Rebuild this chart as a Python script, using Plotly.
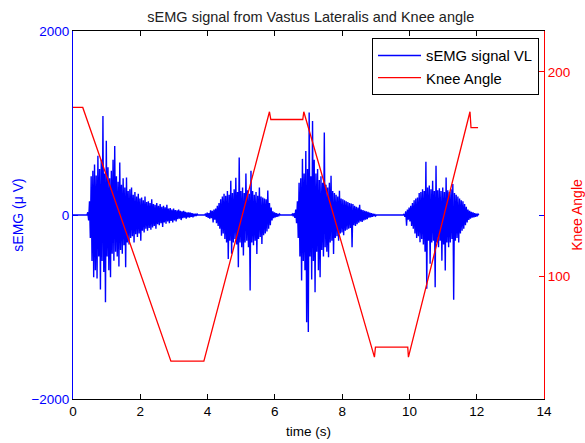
import plotly.graph_objects as go

# ---------------- data ----------------
emg_dt = 0.025            # sampling step used for the burst samples (s)
emg_rest_uV = 0.0         # baseline between bursts
burst_starts = [0.44, 3.94, 6.52, 9.84]

burst1_uV = [30, -60, 150, -250, 420, -500, 480, -676, 550, -600,
             430, -690, 643, -450, 500, -810, 600, -500, 1077, -620,
             450, -948, 808, -450, 520, -600, 400, -676, 480, -420,
             600, -496, 750, -400, 420, -450, 360, -560, 570, -380,
             330, -420, 400, -330, 300, -568, 408, -300, 260, -320,
             280, -250, 300, -230, 220, -300, 250, -210, 200, -240,
             230, -200, 180, -280, 190, -170, 160, -190, 200, -150,
             140, -170, 150, -140, 130, -160, 170, -135, 120, -120,
             110, -150, 130, -100, 100, -110, 120, -90, 90, -130,
             100, -80, 85, -95, 110, -70, 70, -90, 75, -65,
             60, -80, 70, -60, 55, -70, 50, -45, 60, -40,
             45, -55, 40, -35, 45, -30, 35, -40, 30, -25,
             30, -30, 25, -20, 20, -25, 15, -15, 15, -10, 10]

burst2_uV = [15, -20, 25, -30, 20, -40, 50, -35, 45, -80,
             60, -50, 70, -90, 100, -120, 130, -150, 170, -225,
             200, -200, 230, -260, 210, -300, 260, -478, 220, -280,
             372, -420, 240, -300, 280, -260, 405, -320, 250, -568,
             625, -300, 260, -350, 300, -440, 240, -300, 450, -280,
             270, -350, 230, -820, 480, -300, 260, -330, 220, -280,
             250, -423, 210, -260, 300, -240, 200, -315, 190, -220,
             180, -200, 170, -180, 265, -150, 130, -110, 80, -60,
             40, -35, 30, -25, 20, -20, 15, -15, 10]

burst3_uV = [10, -15, 20, -30, 60, -90, 150, -250, 350, -450,
             400, -712, 610, -500, 450, -600, 697, -1165, 500, -1273,
             1113, -450, 420, -700, 1023, -500, 600, -840, 450, -400,
             500, -600, 380, -676, 420, -380, 350, -450, 896, -350,
             330, -400, 300, -460, 350, -300, 426, -280, 260, -423,
             240, -250, 220, -230, 200, -280, 264, -200, 180, -190,
             170, -220, 160, -170, 150, -160, 140, -150, 130, -140,
             125, -351, 120, -110, 100, -120, 90, -100, 80, -85,
             110, -70, 60, -75, 55, -60, 45, -50, 40, -45,
             35, -30, 25, -25, 20, -20, 15, -15, 10, -10]

burst4_uV = [10, -20, 40, -116, 60, -50, 80, -70, 100, -120,
             130, -150, 160, -200, 180, -250, 190, -230, 240, -297,
             250, -260, 280, -320, 260, -400, 580, -802, 300, -280,
             320, -531, 280, -300, 372, -280, 260, -785, 535, -300,
             270, -350, 290, -280, 260, -496, 300, -320, 250, -604,
             408, -300, 270, -350, 250, -300, 280, -260, 336, -920,
             240, -280, 220, -250, 200, -300, 180, -200, 160, -170,
             150, -150, 120, -110, 90, -80, 60, -55, 45, -40,
             35, -30, 30, -25, 20, -20, 15, -15, 10]

bursts = [burst1_uV, burst2_uV, burst3_uV, burst4_uV]

knee_t = [0.0, 0.29, 2.91, 3.89, 5.84, 5.88, 6.83, 6.86, 8.96, 8.99,
          9.95, 9.97, 11.80, 11.83, 12.04]
knee_deg = [182.6, 182.6, 58.5, 58.5, 180.5, 176.7, 176.7, 180.5, 60.5, 65.4,
            65.4, 60.5, 180.5, 172.7, 172.7]

x_ticks = [0, 2, 4, 6, 8, 10, 12, 14]
emg_ticks = [-2000, 0, 2000]
knee_ticks = [100, 200]

# ---------------- build the sampled EMG series ----------------
emg_t = [0.0]
emg_v = [emg_rest_uV]
for start, vals in zip(burst_starts, bursts):
    emg_t.append(round(start - emg_dt, 4))
    emg_v.append(emg_rest_uV)
    for i, v in enumerate(vals):
        emg_t.append(round(start + i * emg_dt, 4))
        emg_v.append(v)
    emg_t.append(round(start + len(vals) * emg_dt, 4))
    emg_v.append(emg_rest_uV)

FONT = "Liberation Sans, Arial, Helvetica, sans-serif"
FS = 13.5
BLUE = "#0000ff"
RED = "#ff0000"

fig = go.Figure()
fig.add_trace(go.Scatter(x=emg_t, y=emg_v, mode="lines", name="sEMG signal VL",
                         line=dict(color=BLUE, width=1.4), yaxis="y"))
fig.add_trace(go.Scatter(x=knee_t, y=knee_deg, mode="lines", name="Knee Angle",
                         line=dict(color=RED, width=1.3), yaxis="y2"))
# helper (empty) trace so the mirrored left-axis ticks on the right are drawn
fig.add_trace(go.Scatter(x=[], y=[], yaxis="y3", showlegend=False, hoverinfo="skip"))

fig.update_layout(
    width=585, height=443,
    margin=dict(l=73, r=41, t=31, b=44, autoexpand=False),
    paper_bgcolor="white", plot_bgcolor="white",
    font=dict(family=FONT, size=FS, color="black"),
    title=dict(text="sEMG signal from Vastus Lateralis and Knee angle",
               x=0.505, xref="paper", xanchor="center",
               y=1 - 17 / 443, yref="container", yanchor="middle",
               automargin=False,
               font=dict(family=FONT, size=14.5, color="#222222")),
    showlegend=True,
    legend=dict(x=0.9894, y=0.980, xanchor="right", yanchor="top",
                bgcolor="white", bordercolor="black", borderwidth=1,
                font=dict(family=FONT, size=14.8, color="black"),
                itemwidth=43, tracegroupgap=0),
    xaxis=dict(range=[0, 14], tickvals=x_ticks, ticks="inside", ticklen=5,
               tickcolor="black", showline=True, linecolor="black", linewidth=1,
               mirror="ticks", showgrid=False, zeroline=False, automargin=False,
               tickfont=dict(color="black", size=FS),
               title=dict(text="time (s)", standoff=8,
                          font=dict(color="black", size=FS))),
    yaxis=dict(range=[-2000, 2000], tickvals=emg_ticks, ticks="inside", ticklen=5,
               tickcolor=BLUE, showline=True, linecolor=BLUE, linewidth=1,
               showgrid=False, zeroline=False, automargin=False,
               tickfont=dict(color=BLUE, size=FS),
               title=dict(text="sEMG (μ V)", standoff=4,
                          font=dict(color=BLUE, size=14))),
    yaxis2=dict(range=[40, 220], tickvals=knee_ticks, ticks="inside", ticklen=5,
                overlaying="y", side="right", anchor="x",
                tickcolor=RED, showline=True, linecolor=RED, linewidth=1,
                showgrid=False, zeroline=False, automargin=False,
                tickfont=dict(color=RED, size=FS),
                title=dict(text="Knee Angle", standoff=4,
                           font=dict(color=RED, size=14))),
    yaxis3=dict(range=[-2000, 2000], tickvals=[0], ticks="inside", ticklen=5,
                overlaying="y", side="right", anchor="x",
                tickcolor=BLUE, showline=False, showticklabels=False,
                showgrid=False, zeroline=False, automargin=False),
)

fig.write_html("out.html",
               config={"displayModeBar": False},
               post_script="document.body.style.margin='0px';"
                           "document.body.style.padding='0px';")
